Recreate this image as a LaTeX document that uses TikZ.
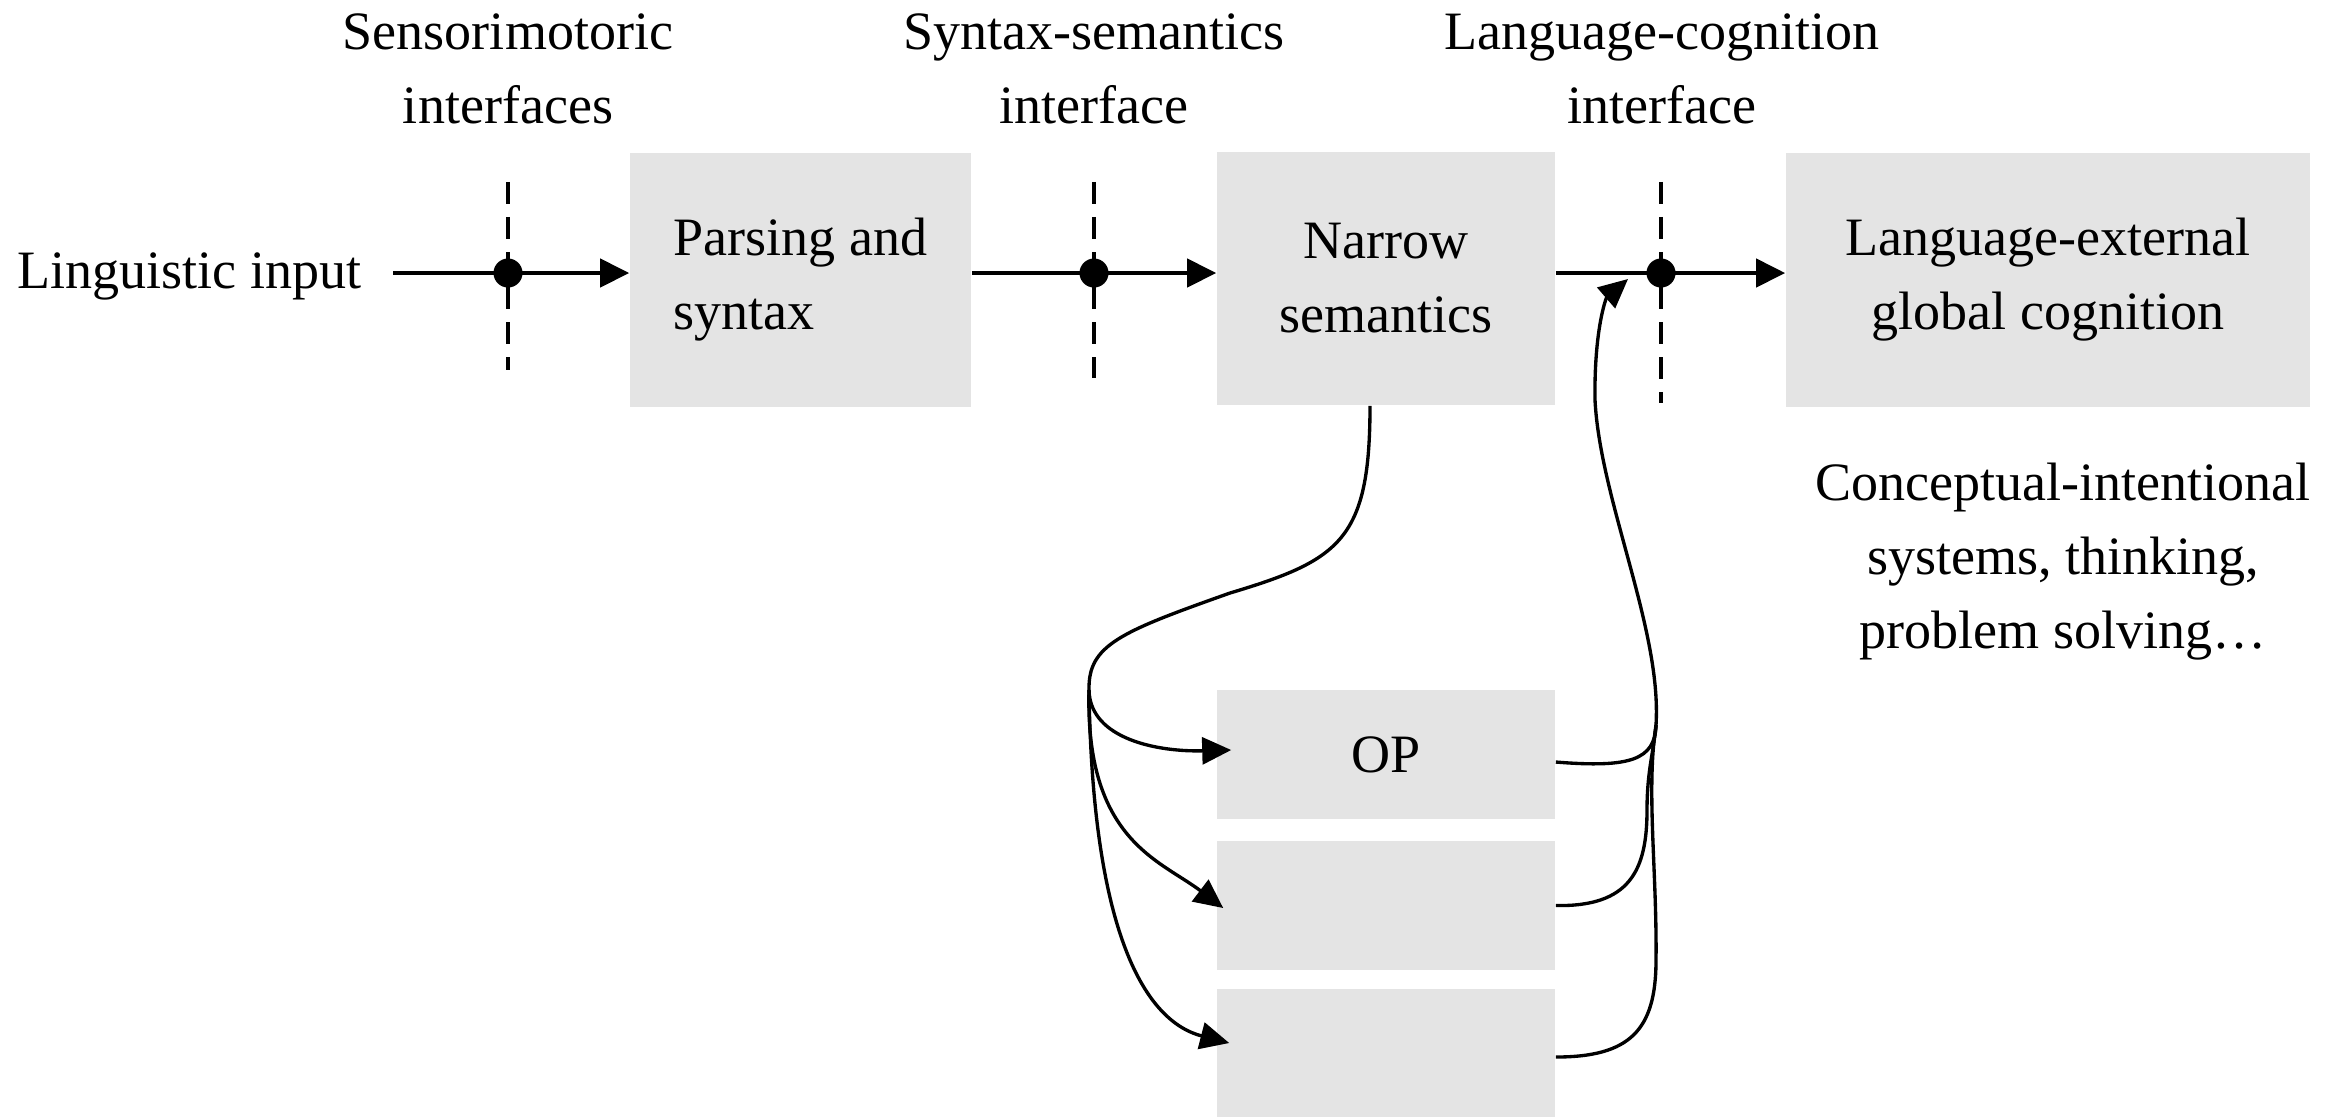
\documentclass[tikz,border=0pt]{standalone}
\usepackage{fontspec}
\setmainfont{Liberation Serif}
\usetikzlibrary{arrows.meta}
\definecolor{boxgray}{RGB}{228,228,228}
\begin{document}
\begin{tikzpicture}[x=0.01cm,y=-0.01cm,
  every node/.style={font=\fontsize{15.37pt}{21.06pt}\selectfont},
  gbox/.style={fill=boxgray, draw=none, inner sep=0, align=center},
  lbl/.style={align=center, inner sep=0},
  dotnode/.style={circle, fill=black, draw=none, inner sep=0, minimum size=0.29cm},
  dashline/.style={line width=0.95pt, dash pattern=on 0.22cm off 0.13cm},
  mainarrow/.style={line width=1.25pt, -{Triangle[length=0.29cm,width=0.28cm]}},
  curve/.style={line width=0.95pt},
  curvearrow/.style={line width=0.95pt, -{Triangle[length=0.29cm,width=0.27cm]}}]
\useasboundingbox (0,0) rectangle (2343,1117);

% boxes
\node[gbox, align=left, minimum width=3.41cm, minimum height=2.54cm] (parse) at (800.5,280) {Parsing and\\syntax};
\node[gbox, minimum width=3.38cm, minimum height=2.53cm] (narrow) at (1386,278.5) {Narrow\\semantics};
\node[gbox, minimum width=5.24cm, minimum height=2.54cm] (ext) at (2048,280) {Language-external\\global cognition};
\node[gbox, minimum width=3.38cm, minimum height=1.29cm] (op) at (1386,754.5) {OP};
\node[gbox, minimum width=3.38cm, minimum height=1.29cm] (b2) at (1386,905.5) {};
\node[gbox, minimum width=3.38cm, minimum height=1.28cm] (b3) at (1386,1053) {};

% texts
\node[inner sep=0, anchor=base west] (ling) at (17,288) {Linguistic input};
\node[lbl] (sens) at (508,68.5) {Sensorimotoric\\interfaces};
\node[lbl] (synsem) at (1094,68.5) {Syntax-semantics\\interface};
\node[lbl] (langcog) at (1662,68.5) {Language-cognition\\interface};
\node[lbl] (cis) at (2063,561.5) {Conceptual-intentional\\systems, thinking,\\problem solving…};

% interface dots (positions)
\coordinate (d1) at (508,273);
\coordinate (d2) at (1094,273);
\coordinate (d3) at (1661,273);

% dashed interface lines
\draw[dashline] ([yshift=0.91cm]d1) -- ([yshift=-0.97cm]d1);
\draw[dashline] ([yshift=0.91cm]d2) -- ([yshift=-1.05cm]d2);
\draw[dashline] ([yshift=0.91cm]d3) -- ([yshift=-1.30cm]d3);

% main arrows
\draw[mainarrow, shorten <=0.31cm] (ling.east |- d1) -- (parse.west |- d1);
\draw[mainarrow] (parse.east |- d2) -- (narrow.west |- d2);
\draw[mainarrow] (narrow.east |- d3) -- (ext.west |- d3);

\node[dotnode] (k1) at (d1) {};
\node[dotnode] (k2) at (d2) {};
\node[dotnode] (k3) at (d3) {};

% left curves
\coordinate (split) at (1089,690);
\draw[curve] ([xshift=-0.16cm]narrow.south) .. controls (1370,540) and (1340,560) .. (1230,593)
  .. controls (1120,632) and (1088,645) .. (split);
\draw[curvearrow] (split) .. controls (1090,740) and (1160,752) .. ([xshift=0.15cm,yshift=0.045cm]op.west);
\draw[curvearrow] (split) .. controls (1085,840) and (1160,860) .. ([xshift=0.07cm,yshift=-0.025cm]b2.west);
\draw[curvearrow] (split) .. controls (1092,920) and (1140,1020) .. ([xshift=0.13cm,yshift=0.1cm]b3.west);

% right curves
\coordinate (merge) at (1656,725);
\coordinate (tipR) at (1628,279);
\draw[curve] ([yshift=-0.075cm]op.east) .. controls (1630,768) and (1655,760) .. (merge);
\draw[curve] (b2.east) .. controls (1630,907) and (1647,870) .. (1647,810)
  .. controls (1647,770) and (1654,750) .. (merge);
\draw[curve] ([yshift=-0.04cm]b3.east) .. controls (1630,1057) and (1656,1030) .. (1656,960)
  .. controls (1657,870) and (1646,790) .. (merge);
\draw[curvearrow] (merge) .. controls (1662,630) and (1600,500) .. (1595,400)
  .. controls (1594,330) and (1606,298) .. (tipR);
\end{tikzpicture}
\end{document}
